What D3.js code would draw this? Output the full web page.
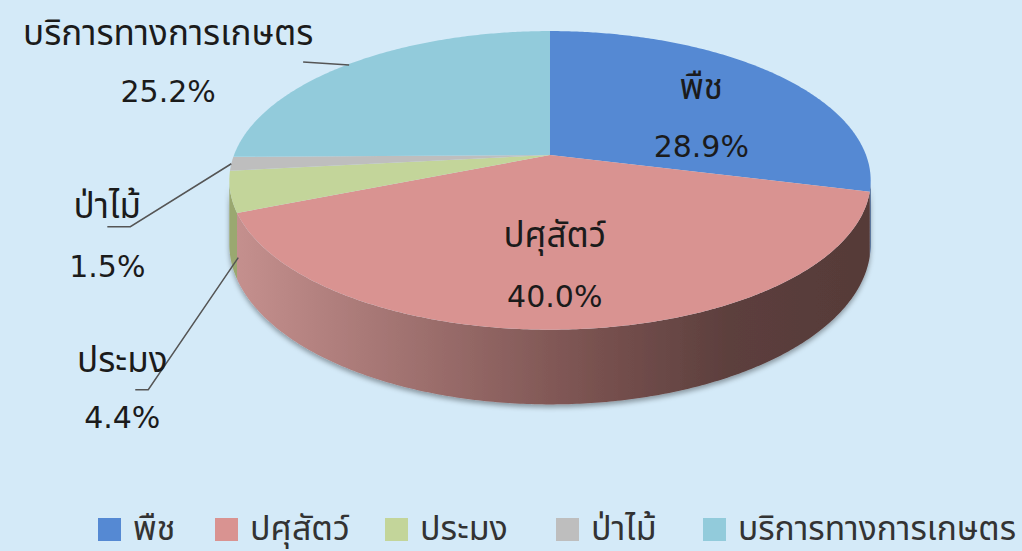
<!DOCTYPE html>
<html>
<head>
<meta charset="utf-8">
<script src="https://cdn.jsdelivr.net/npm/d3@7"></script>
<style>
  body { margin: 0; background: #d4eaf8; }
  svg { display: block; font-family: "DejaVu Sans", "Noto Sans Thai", Tahoma, sans-serif; }
</style>
</head>
<body>
<div id="chart"></div>
<script>
const categories = ["พืช", "ปศุสัตว์", "ประมง", "ป่าไม้", "บริการทางการเกษตร"];
const values = [28.9, 40.0, 4.4, 1.5, 25.2];
const colors = ["#5589d3", "#d99391", "#c3d59a", "#bebebe", "#92cbdb"];

const width = 1022;
const height = 551;

// simple perspective view of a flat disc
const X0 = 550, Y0 = 155;       // centre of the pie on screen
const A = 316, B = 145, k = 0.17, D0 = 62;

const svg = d3.select("#chart")
    .append("svg")
    .attr("width", width)
    .attr("height", height);

const defs = svg.append("defs");
const grad = defs.append("linearGradient")
    .attr("id", "wall")
    .attr("gradientUnits", "userSpaceOnUse")
    .attr("x1", 230).attr("x2", 872)
    .attr("y1", 0).attr("y2", 0);
grad.append("stop").attr("offset", "0%").attr("stop-color", "#c6918f");
grad.append("stop").attr("offset", "55%").attr("stop-color", "#7b5351");
grad.append("stop").attr("offset", "78%").attr("stop-color", "#5c3f3d");
grad.append("stop").attr("offset", "100%").attr("stop-color", "#563a38");

const shadow = defs.append("filter").attr("id", "shadow")
    .attr("x", "-10%").attr("y", "-10%").attr("width", "120%").attr("height", "130%");
shadow.append("feDropShadow")
    .attr("dx", 0).attr("dy", 3).attr("stdDeviation", 2.5)
    .attr("flood-color", "#000").attr("flood-opacity", 0.35);

function pt(a, down = false) {
    const u = Math.sin(a), v = -Math.cos(a);
    const d = 1 - k * v;
    return {
        x: X0 + A * u / d,
        y: Y0 + B * v / d + (down ? D0 / d : 0)
    };
}

function edge(a0, a1, down = false) {
    const n = Math.max(2, Math.ceil((a1 - a0) / 0.01));
    return d3.range(n + 1).map(i => pt(a0 + (a1 - a0) * i / n, down));
}

const line = d3.line().x(d => d.x).y(d => d.y);

const pie = d3.pie().sort(null).value(d => d.value);
const arcs = pie(categories.map((c, i) => ({ name: c, value: values[i], color: colors[i] })));

// side walls, only between the two silhouette points
const sideA = Math.acos(-k), sideB = Math.PI * 2 - Math.acos(-k);
const wallFill = ["#2f4f80", "url(#wall)", "#9aa870", "#8f8f8f", "#5f8f9c"];
const walls = svg.append("g").attr("filter", "url(#shadow)");
arcs.forEach((d, i) => {
    const a0 = Math.max(d.startAngle, sideA);
    const a1 = Math.min(d.endAngle, sideB);
    if (a1 <= a0) return;
    const pts = edge(a0, a1).concat(edge(a0, a1, true).reverse());
    walls.append("path")
        .attr("d", line(pts) + "Z")
        .attr("fill", wallFill[i]);
});

// top faces
svg.append("g").selectAll("path")
    .data(arcs)
    .enter()
    .append("path")
    .attr("d", d => line([{ x: X0, y: Y0 }].concat(edge(d.startAngle, d.endAngle))) + "Z")
    .attr("fill", d => d.data.color);

const fmt = v => v.toFixed(1) + "%";
const txt = "#1b1b1b";

function label(x, y, d, gap) {
    svg.append("text")
        .attr("x", x).attr("y", y)
        .attr("text-anchor", "middle")
        .attr("font-size", "35px")
        .attr("fill", txt)
        .text(d.data.name);
    svg.append("text")
        .attr("x", x).attr("y", y + gap)
        .attr("text-anchor", "middle")
        .attr("font-size", "30px")
        .attr("fill", txt)
        .text(fmt(d.data.value));
}

// labels inside the slices
const inside = [{ i: 0, dx: 16, dy: -8, gap: 58 }, { i: 1, dx: -11, dy: -13, gap: 60 }];
inside.forEach(o => {
    const d = arcs[o.i];
    const m = pt((d.startAngle + d.endAngle) / 2);
    label(X0 + (m.x - X0) * 0.6 + o.dx, Y0 + (m.y - Y0) * 0.6 + o.dy, d, o.gap);
});

// labels outside with leader lines
const outside = [
    { i: 4, lx: -181, ly: -19, gap: 57, path: [[0, 1], [-46, -2]] },
    { i: 3, lx: -124, ly: 54, gap: 59, path: [[0, 0], [-101, 63], [-124, 63]] },
    { i: 2, lx: -108, ly: 180, gap: 56, path: [[8, 66], [-82, 198], [-95, 198]] }
];
const leaders = svg.append("g")
    .attr("fill", "none")
    .attr("stroke", "#555")
    .attr("stroke-width", 1.5);
outside.forEach(o => {
    const d = arcs[o.i];
    const m = pt((d.startAngle + d.endAngle) / 2);
    leaders.append("path").attr("d", line(o.path.map(p => ({ x: m.x + p[0], y: m.y + p[1] }))));
    label(m.x + o.lx, m.y + o.ly, d, o.gap);
});

// legend
const legendX = [98, 215, 385, 556, 703];
const legend = svg.append("g").attr("transform", "translate(0,518)");
categories.forEach((c, i) => {
    legend.append("rect")
        .attr("x", legendX[i]).attr("y", 0)
        .attr("width", 23).attr("height", 23)
        .attr("fill", colors[i]);
    const t = legend.append("text")
        .attr("x", legendX[i] + 35).attr("y", 22)
        .attr("font-size", "34px")
        .attr("fill", "#333")
        .text(c);
    // squeeze a label that would run past the next item or the edge
    const room = (i < categories.length - 1 ? legendX[i + 1] - 20 : width - 6) - (legendX[i] + 35);
    if (t.node().getComputedTextLength() > room) {
        t.attr("textLength", room).attr("lengthAdjust", "spacingAndGlyphs");
    }
});
</script>
</body>
</html>
